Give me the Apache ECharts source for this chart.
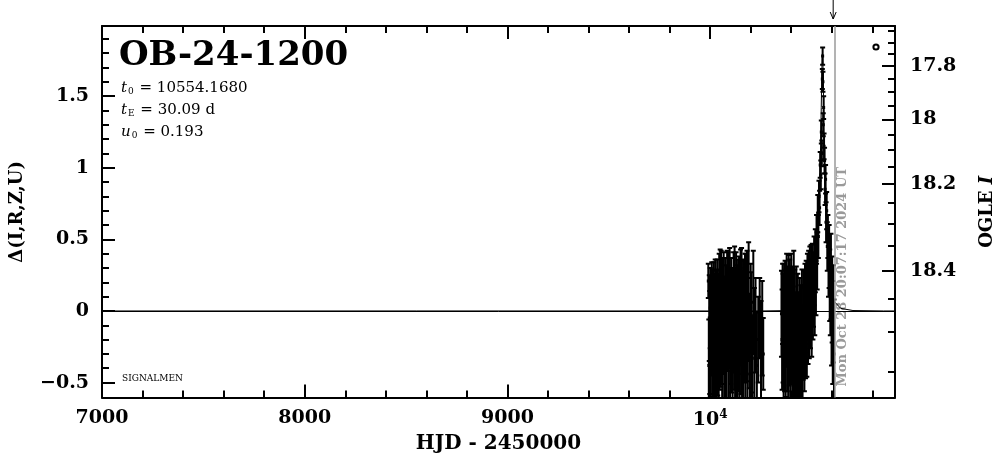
<!DOCTYPE html>
<html><head><meta charset="utf-8">
<script src="https://cdn.jsdelivr.net/npm/echarts@6/dist/echarts.min.js"></script>
<style>html,body{margin:0;padding:0;background:#fff}#c{width:1004px;height:459px}</style>
</head><body><div id="c"></div>
<script>
// ---------------- data ----------------
const eventName = 'OB-24-1200';
const paramT0 = '10554.1680';
const paramTE = '30.09 d';
const paramU0 = '0.193';
const surveyTag = 'SIGNALMEN';
const nowLabel = 'Mon Oct 28 20:07:17 2024 UT';
const nowT = 10612.34;     // gray "now" line (HJD-2450000)
const arrowT = 10607;      // arrow above the frame

const xMin = 7000, xMax = 10912;
const yMin = -0.605, yMax = 1.99;
const xMajorTicks = [7000, 8000, 9000, 10000];
const xMinorTicks = [7200,7400,7600,7800,8200,8400,8600,8800,9200,9400,9600,9800,10200,10400,10600,10800];
const yMajorTicks = [-0.5, 0, 0.5, 1, 1.5];
const yMinorTicks = [-0.4,-0.3,-0.2,-0.1,0.1,0.2,0.3,0.4,0.6,0.7,0.8,0.9,1.1,1.2,1.3,1.4,1.6,1.7,1.8,1.9];
const magMajorTicks = [17.8, 18.0, 18.2, 18.4];
const magMinorTicks = [17.65,17.7,17.75,17.85,17.9,17.95,18.05,18.1,18.15,18.25,18.3,18.35,18.45,18.5,18.55];
const magBase = 18.469;   // OGLE I baseline
const blendFs = 0.2226;   // source flux fraction

// OGLE photometry: time, Delta, error
const ogleT = [
 9991.0,9993.5,9995.8,9998.2,10000.6,10003.1,10005.5,10008.0,10010.4,10012.9,
 10015.3,10017.8,10020.2,10022.7,10025.1,10027.6,10030.0,10032.5,10034.9,10037.4,
 10039.8,10042.3,10044.7,10047.2,10049.6,10052.1,10054.5,10057.0,10059.4,10061.9,
 10064.3,10066.8,10069.2,10071.7,10074.1,10076.6,10079.0,10081.5,10083.9,10086.4,
 10088.8,10091.3,10093.7,10096.2,10098.6,10101.1,10103.5,10106.0,10108.4,10110.9,
 10113.3,10115.8,10118.2,10120.7,10123.1,10125.6,10128.0,10130.5,10132.9,10135.4,
 10137.8,10140.3,10142.7,10145.2,10147.6,10150.1,10152.5,10155.0,10157.4,10159.9,
 10162.3,10164.8,10167.2,10169.7,10172.1,10174.6,10177.0,10179.5,10181.9,10184.4,
 10187.0,10190.0,10193.2,10196.5,10200.1,10204.0,10208.3,10213.0,10218.2,10224.0,
 10230.5,10237.5,10244.5,10251.0,10257.0,10262.0,
 10352.0,10355.0,10357.5,10360.0,10362.5,10365.0,10367.5,10370.0,10372.5,10375.0,
 10377.5,10380.0,10382.5,10385.0,10387.5,10390.0,10392.5,10395.0,10397.5,10400.0,
 10402.5,10405.0,10407.5,10410.0,10412.5,10415.0,10417.5,10420.0,10422.5,10425.0,
 10427.5,10430.0,10432.5,10435.0,10437.5,10440.0,10442.5,10445.0,10447.5,10450.0,
 10453.0,10456.0,10459.0,10462.0,10465.0,10468.0,10471.0,10474.0,10477.0,10480.0,
 10483.0,10486.0,10489.0,10492.0,10495.0,10498.0,10501.0,10504.0,10507.0,10510.0,
 10513.0,10516.0,10519.0,10522.0,10525.0,10528.0,10531.0,10534.0,10537.0,10540.0,
 10543.0,10546.0,10548.5,10551.0,10553.5,10555.0,10556.5,10558.0,10560.0,10562.0,
 10564.5,10567.0,10569.5,10572.0,10575.0,10578.0,10581.0,10584.0,10587.0,10590.0,
 10593.0,10596.0,10599.0,10602.0,10605.0,10608.0,10611.0
];
const ogleD = [
 0.21,-0.38,-0.05,-0.22,0.02,-0.31,-0.12,0.08,-0.27,-0.02,
 -0.18,0.05,-0.35,-0.08,0.11,-0.21,-0.04,-0.29,0.06,-0.15,
 -0.01,-0.33,0.09,-0.19,0.03,-0.24,0.12,-0.10,-0.36,0.00,
 -0.16,0.07,-0.28,-0.06,0.10,-0.22,-0.03,-0.40,0.04,-0.13,
 0.13,-0.26,-0.07,0.08,-0.32,-0.11,0.05,-0.20,0.01,-0.37,
 -0.09,0.11,-0.17,0.02,-0.30,-0.05,0.14,-0.23,-0.01,-0.42,
 0.06,-0.14,0.09,-0.27,-0.04,0.12,-0.19,0.00,-0.34,-0.08,
 0.07,-0.25,0.03,-0.12,0.10,-0.39,-0.02,-0.18,0.05,-0.29,
 -0.06,0.08,-0.21,-0.44,0.02,-0.15,-0.33,0.06,-0.24,-0.10,
 -0.38,-0.20,-0.05,-0.28,-0.12,-0.30,
 -0.02,-0.20,0.05,-0.12,-0.30,0.02,-0.16,0.08,-0.24,-0.05,
 0.10,-0.19,-0.02,-0.33,0.04,-0.11,0.07,-0.27,-0.07,0.09,
 -0.15,-0.36,-0.03,-0.22,0.05,-0.40,-0.13,-0.45,-0.28,-0.05,
 -0.50,-0.32,-0.18,-0.48,-0.25,-0.38,-0.10,-0.42,-0.22,-0.30,
 -0.08,-0.35,-0.15,-0.02,-0.20,0.02,-0.12,0.06,-0.08,0.10,
 -0.03,0.14,0.00,0.18,0.05,0.20,-0.02,0.22,0.08,0.15,
 0.28,0.10,0.35,0.22,0.50,0.35,0.68,0.52,0.80,0.72,
 1.02,0.95,1.25,1.10,1.62,1.78,1.60,1.30,1.42,1.15,
 1.05,0.85,0.92,0.62,0.70,0.45,0.52,0.30,0.38,0.18,
 0.10,0.24,-0.05,0.08,-0.15,-0.02,-0.30
];
const ogleE = [
 0.12,0.32,0.30,0.36,0.28,0.40,0.33,0.26,0.38,0.31,
 0.42,0.29,0.37,0.34,0.25,0.40,0.32,0.35,0.30,0.44,
 0.27,0.38,0.31,0.36,0.40,0.29,0.30,0.41,0.33,0.37,
 0.28,0.34,0.43,0.30,0.27,0.39,0.35,0.31,0.38,0.29,
 0.28,0.42,0.33,0.36,0.30,0.40,0.32,0.37,0.29,0.41,
 0.34,0.30,0.38,0.43,0.31,0.35,0.27,0.40,0.33,0.36,
 0.30,0.42,0.29,0.37,0.34,0.31,0.39,0.44,0.30,0.36,
 0.28,0.41,0.33,0.38,0.30,0.35,0.42,0.31,0.37,0.34,
 0.29,0.40,0.33,0.38,0.31,0.42,0.30,0.36,0.40,0.33,
 0.37,0.30,0.28,0.35,0.33,0.25,
 0.30,0.35,0.28,0.38,0.33,0.31,0.40,0.27,0.36,0.34,
 0.30,0.37,0.33,0.30,0.35,0.41,0.29,0.34,0.38,0.31,
 0.36,0.40,0.33,0.39,0.37,0.35,0.42,0.38,0.41,0.36,
 0.40,0.37,0.44,0.35,0.38,0.42,0.33,0.36,0.40,0.34,
 0.37,0.39,0.33,0.30,0.36,0.31,0.35,0.29,0.38,0.30,
 0.34,0.28,0.33,0.27,0.31,0.26,0.30,0.25,0.28,0.26,
 0.24,0.27,0.22,0.25,0.17,0.20,0.13,0.15,0.11,0.12,
 0.09,0.10,0.08,0.09,0.07,0.06,0.07,0.08,0.08,0.09,
 0.09,0.11,0.10,0.14,0.13,0.17,0.15,0.20,0.22,0.25,
 0.27,0.30,0.33,0.30,0.36,0.34,0.38
];

// model light curve
const modelT = [7000,10100,10253.3,10403.7,10463.9,10494.0,10509.0,10524.1,10533.1,10539.1,10542.1,10545.1,10548.2,10549.7,10551.2,10552.7,10554.2,10555.7,10557.2,10558.7,10560.2,10563.2,10566.2,10569.2,10575.2,10584.3,10599.3,10614.4,10644.4,10704.6,10855.1,10912];
const modelD = [0,0,0.000,0.003,0.018,0.063,0.133,0.309,0.534,0.785,0.957,1.169,1.421,1.554,1.676,1.767,1.801,1.767,1.676,1.554,1.421,1.169,0.957,0.785,0.534,0.309,0.133,0.063,0.018,0.003,0.000,0];

// ---------------- chart ----------------
const FF = '"DejaVu Serif", serif';
const magToDelta = m => 2.5 * Math.log10((Math.pow(10, -0.4 * (m - magBase)) - (1 - blendFs)) / blendFs);
const deltaToMag = d => magBase - 2.5 * Math.log10(blendFs * Math.pow(10, 0.4 * d) + 1 - blendFs);

const ogleData = [];
const n = Math.min(ogleT.length, ogleD.length, ogleE.length);
for (let i = 0; i < n; i++) ogleData.push([ogleT[i], ogleD[i], ogleE[i]]);
const modelData = modelT.map((t, i) => [t, modelD[i]]);

const lbl = {color: '#000', fontFamily: FF, fontWeight: 'bold', fontSize: 19};
const tickStyle = {color: '#000', width: 2};

function xAxisDef(pos, ticks, len, main) {
  return {
    type: 'value', position: pos, min: xMin, max: xMax,
    axisLine: {show: main, onZero: false, lineStyle: {color: '#000', width: 2}},
    axisTick: {show: true, inside: true, length: len, customValues: ticks, lineStyle: tickStyle},
    axisLabel: (main && pos === 'bottom') ? Object.assign({
      customValues: xMajorTicks, margin: 11,
      formatter: v => v === 10000 ? '10{sup|4}' : String(v),
      rich: {sup: {fontFamily: FF, fontWeight: 'bold', fontSize: 12, padding: [0, 0, 10, 0]}}
    }, lbl) : {show: false},
    splitLine: {show: false}, minorTick: {show: false}
  };
}
function yAxisDef(pos, ticks, len, main, labels) {
  return {
    type: 'value', position: pos, min: yMin, max: yMax,
    axisLine: {show: main, onZero: false, lineStyle: {color: '#000', width: 2}},
    axisTick: {show: true, inside: true, length: len, customValues: ticks, lineStyle: tickStyle},
    axisLabel: labels ? Object.assign({customValues: ticks, margin: 13}, lbl, labels) : {show: false},
    splitLine: {show: false}
  };
}

const chart = echarts.init(document.getElementById('c'), null, {renderer: 'canvas'});
const option = {
  animation: false,
  backgroundColor: '#fff',
  grid: {left: 101, right: 103, top: 26, bottom: 57, containLabel: false},
  xAxis: [
    Object.assign(xAxisDef('bottom', xMajorTicks, 13, true), {
      name: 'HJD - 2450000', nameLocation: 'middle', nameGap: 36,
      nameTextStyle: {color: '#000', fontFamily: FF, fontWeight: 'bold', fontSize: 20}
    }),
    xAxisDef('bottom', xMinorTicks, 7, false),
    xAxisDef('top', xMajorTicks, 13, true),
    xAxisDef('top', xMinorTicks, 7, false)
  ],
  yAxis: [
    Object.assign(yAxisDef('left', yMajorTicks, 13, true, {formatter: v => String(v).replace('-', '\u2212')}), {
      name: 'Δ(I,R,Z,U)', nameLocation: 'middle', nameGap: 76, nameRotate: 90,
      nameTextStyle: {color: '#000', fontFamily: FF, fontWeight: 'bold', fontSize: 18}
    }),
    yAxisDef('left', yMinorTicks, 7, false, null),
    Object.assign(yAxisDef('right', magMajorTicks.map(magToDelta), 13, true, {
      margin: 15, formatter: v => String(parseFloat(deltaToMag(v).toFixed(1)))
    }), {
      name: 'OGLE {it|I}', nameLocation: 'middle', nameGap: 83, nameRotate: 90,
      nameTextStyle: {color: '#000', fontFamily: FF, fontWeight: 'bold', fontSize: 18,
        rich: {it: {fontFamily: FF, fontWeight: 'bold', fontStyle: 'italic', fontSize: 18}}}
    }),
    yAxisDef('right', magMinorTicks.map(magToDelta), 7, false, null)
  ],
  series: [
    {
      type: 'line', data: modelData, xAxisIndex: 0, yAxisIndex: 0,
      showSymbol: false, symbol: 'none', lineStyle: {color: '#000', width: 1}, z: 3, silent: true,
      markLine: {
        silent: true, symbol: 'none', animation: false, label: {show: false},
        data: [
          {yAxis: 0, lineStyle: {color: '#000', width: 1, type: 'solid'}},
          {xAxis: nowT, lineStyle: {color: '#9a9a9a', width: 1.5, type: 'solid'}}
        ]
      }
    },
    {
      type: 'custom', data: ogleData, xAxisIndex: 0, yAxisIndex: 0, clip: true, z: 4,
      encode: {x: 0, y: 1},
      renderItem: function (params, api) {
        const t = api.value(0), d = api.value(1), e = api.value(2);
        const p = api.coord([t, d]);
        const top = api.coord([t, d + e]);
        const bot = api.coord([t, d - e]);
        const st = {stroke: '#000', lineWidth: 2};
        return {
          type: 'group',
          children: [
            {type: 'line', shape: {x1: p[0], y1: top[1], x2: p[0], y2: bot[1]}, style: st},
            {type: 'line', shape: {x1: p[0] - 2.5, y1: top[1], x2: p[0] + 2.5, y2: top[1]}, style: st},
            {type: 'line', shape: {x1: p[0] - 2.5, y1: bot[1], x2: p[0] + 2.5, y2: bot[1]}, style: st},
            {type: 'rect', shape: {x: p[0] - 1.5, y: p[1] - 1.5, width: 3, height: 3}, style: {fill: '#000'}}
          ]
        };
      }
    }
  ]
};
chart.setOption(option);

const nowX = chart.convertToPixel({xAxisIndex: 0}, nowT);
const arrX = chart.convertToPixel({xAxisIndex: 0}, arrowT);
const bottomY = chart.convertToPixel({yAxisIndex: 0}, yMin);
const rich = {
  i: {fontFamily: FF, fontStyle: 'italic', fontSize: 15},
  s: {fontFamily: FF, fontSize: 9, padding: [8, 1, 0, 1]}
};
chart.setOption({
  graphic: [
    {type: 'text', x: 119, y: 56, style: {text: eventName, fill: '#000', fontFamily: FF, fontWeight: 'bold', fontSize: 34, textVerticalAlign: 'middle'}},
    {type: 'text', x: 121, y: 88, style: {text: '{i|t}{s|0} = ' + paramT0, rich: rich, fill: '#000', fontFamily: FF, fontSize: 15, textVerticalAlign: 'middle'}},
    {type: 'text', x: 121, y: 110, style: {text: '{i|t}{s|E} = ' + paramTE, rich: rich, fill: '#000', fontFamily: FF, fontSize: 15, textVerticalAlign: 'middle'}},
    {type: 'text', x: 121, y: 132, style: {text: '{i|u}{s|0} = ' + paramU0, rich: rich, fill: '#000', fontFamily: FF, fontSize: 15, textVerticalAlign: 'middle'}},
    {type: 'text', x: 122, y: 379, style: {text: surveyTag, fill: '#000', fontFamily: FF, fontSize: 9, textVerticalAlign: 'middle'}},
    {type: 'circle', shape: {cx: 876, cy: 47, r: 2.6}, style: {fill: '#fff', stroke: '#000', lineWidth: 2}},
    {type: 'line', shape: {x1: arrX, y1: 0, x2: arrX, y2: 19}, style: {stroke: '#000', lineWidth: 1}},
    {type: 'polyline', shape: {points: [[arrX - 3, 12], [arrX, 19], [arrX + 3, 12]]}, style: {stroke: '#000', lineWidth: 1, fill: null}},
    {type: 'text', x: nowX + 8, y: bottomY - 11, rotation: Math.PI / 2,
      style: {text: nowLabel, fill: '#9a9a9a', fontFamily: FF, fontWeight: 'bold', fontSize: 13, textAlign: 'left', textVerticalAlign: 'middle'}}
  ]
});
</script>
</body></html>
